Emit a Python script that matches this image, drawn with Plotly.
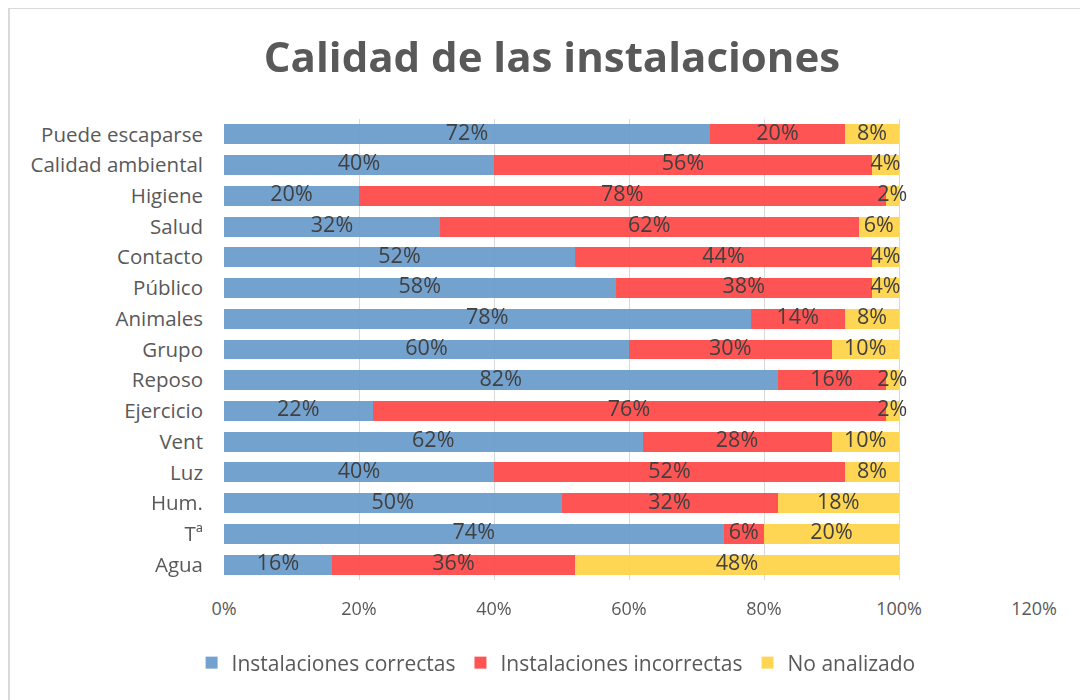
import plotly.graph_objects as go

# Categories from top to bottom as in the reference
categorias = ["Puede escaparse", "Calidad ambiental", "Higiene", "Salud", "Contacto",
              "Público", "Animales", "Grupo", "Reposo", "Ejercicio", "Vent", "Luz",
              "Hum.", "Tª", "Agua"]
correctas = [72, 40, 20, 32, 52, 58, 78, 60, 82, 22, 62, 40, 50, 74, 16]
incorrectas = [20, 56, 78, 62, 44, 38, 14, 30, 16, 76, 28, 52, 32, 6, 36]
no_analizado = [8, 4, 2, 6, 4, 4, 8, 10, 2, 2, 10, 8, 18, 20, 48]

series = [
    ("Instalaciones correctas", correctas, "#6A9BCC"),
    ("Instalaciones incorrectas", incorrectas, "#FF4848"),
    ("No analizado", no_analizado, "#FFD348"),
]

FONT = "Open Sans"

fig = go.Figure()
base = [0] * len(categorias)
label_x, label_y, label_t = [], [], []
for nombre, valores, color in series:
    fig.add_trace(go.Bar(
        y=categorias,
        x=[v / 100 for v in valores],
        name=nombre,
        orientation="h",
        marker=dict(color=color, line=dict(width=0)),
        opacity=0.93,
        hoverinfo="x+y+name",
    ))
    # data labels centred on each segment (plotly shrinks inside text on thin bars)
    for i, v in enumerate(valores):
        label_x.append((base[i] + v / 2) / 100)
        label_y.append(categorias[i])
        label_t.append(f"{v}%")
        base[i] += v

fig.add_trace(go.Scatter(
    x=label_x, y=label_y, text=label_t, mode="text",
    textposition="middle center",
    textfont=dict(family=FONT, size=21.5, color="#404040"),
    showlegend=False, hoverinfo="skip", cliponaxis=False,
))

# left and top frame lines of the chart area
frame = dict(color="#D9D9D9", width=2)
fig.update_layout(
    barmode="stack",
    bargap=0.35,
    width=1088, height=700,
    paper_bgcolor="white", plot_bgcolor="white",
    font=dict(family=FONT, color="#595959"),
    title=dict(text="<b>Calidad de las instalaciones</b>", x=0.5, xanchor="center",
               y=0.93, yanchor="middle",
               font=dict(family=FONT, size=42, color="#595959")),
    margin=dict(l=216, r=62, t=111, b=128),
    xaxis=dict(range=[0, 1.2], dtick=0.2, tickformat=".0%",
               showgrid=True, gridcolor="#D9D9D9", gridwidth=1,
               zeroline=False, showline=False,
               tickfont=dict(family=FONT, size=18, color="#595959"),
               ticks="", ticklabelstandoff=16),
    yaxis=dict(categoryorder="array", categoryarray=categorias,
               range=[len(categorias) - 0.5, -0.5],
               showgrid=False, showline=False, ticks="", ticklabelstandoff=20,
               tickfont=dict(family=FONT, size=20.5, color="#595959")),
    legend=dict(orientation="h", x=0.41, xanchor="center", y=-0.18, yanchor="middle",
                font=dict(family=FONT, size=21, color="#595959"),
                traceorder="normal"),
    shapes=[
        dict(type="line", xref="paper", yref="paper",
             x0=-0.2655, x1=-0.2655, y0=-0.3, y1=1.2408, line=frame),
        dict(type="line", xref="paper", yref="paper",
             x0=-0.2655, x1=1.1, y0=1.2408, y1=1.2408, line=frame),
    ],
)

fig.write_html("out.html")
